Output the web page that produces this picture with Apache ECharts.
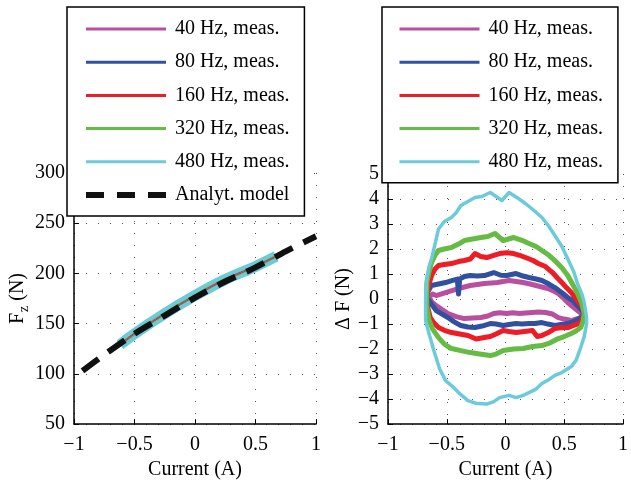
<!DOCTYPE html>
<html>
<head>
<meta charset="utf-8">
<script src="https://cdn.jsdelivr.net/npm/echarts@6/dist/echarts.min.js"></script>
<style>html,body{margin:0;padding:0;background:#fff}#c{width:631px;height:485px}</style>
</head>
<body>
<div id="c"></div>
<script>
// ---------- DATA ----------
const measNames = ['40 Hz, meas.', '80 Hz, meas.', '160 Hz, meas.', '320 Hz, meas.', '480 Hz, meas.'];
const modelName = 'Analyt. model';
const measColors = ['#b8509f', '#3050a0', '#ee1c25', '#66bb44', '#6ccbd9'];

const xTicks = [-1, -0.5, 0, 0.5, 1];
const fzTicks = [50, 100, 150, 200, 250, 300];
const dfTicks = [-5, -4, -3, -2, -1, 0, 1, 2, 3, 4, 5];

// Left plot: analytical model Fz(I)
const modelX = [-0.93, -0.75, -0.5, -0.25, 0, 0.25, 0.5, 0.75, 1.0];
const modelF = [103, 119, 140, 158, 176, 192, 206, 222, 237];
// Left plot: measured (all frequencies lie on this narrow band)
const measX = [-0.62, -0.5, -0.25, 0, 0.25, 0.5, 0.67];
const measF = [129, 140, 160, 178, 194, 207, 217];

// Right plot: Delta F hysteresis loops, [current, dF]
const loop40 = [[-0.65,0.1],[-0.62,0.2],[-0.59,0.14],[-0.55,0.2],[-0.51,0.26],[-0.45,0.35],[-0.40,0.42],[-0.35,0.48],[-0.30,0.54],[-0.24,0.58],[-0.18,0.62],[-0.12,0.64],[-0.07,0.66],[0.03,0.74],[0.09,0.7],[0.15,0.66],[0.21,0.6],[0.26,0.54],[0.31,0.48],[0.36,0.42],[0.41,0.32],[0.45,0.22],[0.49,0.05],[0.53,-0.14],[0.57,-0.3],[0.61,-0.45],[0.65,-0.6],[0.66,-0.7],[0.64,-0.74],[0.6,-0.8],[0.56,-0.86],[0.5,-0.8],[0.45,-0.74],[0.40,-0.6],[0.34,-0.54],[0.28,-0.52],[0.23,-0.54],[0.17,-0.56],[0.12,-0.58],[0.06,-0.55],[0.01,-0.58],[-0.05,-0.55],[-0.10,-0.58],[-0.15,-0.68],[-0.21,-0.74],[-0.28,-0.76],[-0.35,-0.78],[-0.42,-0.7],[-0.49,-0.58],[-0.54,-0.42],[-0.59,-0.26],[-0.63,-0.1],[-0.65,0.1]];
const loop80 = [[-0.67,0.06],[-0.66,0.3],[-0.63,0.54],[-0.57,0.6],[-0.51,0.66],[-0.45,0.75],[-0.41,0.8],[-0.40,0.2],[-0.39,0.8],[-0.35,0.9],[-0.30,0.94],[-0.24,0.92],[-0.18,0.94],[-0.10,1.06],[-0.04,0.95],[0.01,0.94],[0.09,1.02],[0.15,0.92],[0.20,0.86],[0.26,0.8],[0.31,0.74],[0.37,0.6],[0.42,0.46],[0.48,0.25],[0.53,0.06],[0.58,-0.1],[0.61,-0.26],[0.65,-0.45],[0.67,-0.6],[0.64,-0.74],[0.58,-0.9],[0.53,-0.98],[0.47,-1.02],[0.42,-1.06],[0.36,-1.0],[0.31,-0.94],[0.25,-0.98],[0.20,-0.98],[0.14,-1.0],[0.09,-0.98],[0.03,-1.02],[-0.02,-1.06],[-0.08,-1.0],[-0.13,-0.98],[-0.20,-1.08],[-0.26,-1.14],[-0.32,-1.12],[-0.38,-1.06],[-0.44,-0.9],[-0.49,-0.74],[-0.54,-0.6],[-0.59,-0.46],[-0.63,-0.2],[-0.67,0.06]];
const loop160 = [[-0.67,0.14],[-0.65,0.6],[-0.63,0.94],[-0.6,1.2],[-0.57,1.34],[-0.52,1.38],[-0.46,1.42],[-0.4,1.5],[-0.35,1.54],[-0.3,1.6],[-0.26,1.82],[-0.21,1.7],[-0.16,1.66],[-0.1,1.75],[-0.05,1.82],[0.01,1.85],[0.07,1.82],[0.12,1.75],[0.17,1.66],[0.23,1.55],[0.28,1.42],[0.34,1.3],[0.4,1.06],[0.44,0.85],[0.48,0.66],[0.52,0.45],[0.56,0.26],[0.61,-0.06],[0.65,-0.3],[0.67,-0.58],[0.64,-0.94],[0.58,-1.05],[0.53,-1.14],[0.47,-1.15],[0.42,-1.18],[0.36,-1.35],[0.31,-1.46],[0.27,-1.5],[0.23,-1.26],[0.16,-1.3],[0.09,-1.34],[0.03,-1.3],[-0.02,-1.26],[-0.08,-1.4],[-0.13,-1.5],[-0.18,-1.54],[-0.25,-1.6],[-0.32,-1.46],[-0.39,-1.4],[-0.46,-1.34],[-0.52,-1.25],[-0.57,-1.14],[-0.61,-0.95],[-0.64,-0.74],[-0.67,-0.18],[-0.67,0.14]];
const loop320 = [[-0.67,0.66],[-0.65,1.1],[-0.63,1.46],[-0.6,1.75],[-0.57,1.94],[-0.52,2.0],[-0.46,2.06],[-0.4,2.2],[-0.35,2.34],[-0.28,2.4],[-0.21,2.46],[-0.15,2.5],[-0.09,2.62],[-0.02,2.34],[0.07,2.46],[0.14,2.35],[0.2,2.22],[0.26,2.1],[0.31,1.94],[0.37,1.75],[0.42,1.54],[0.48,1.25],[0.53,0.94],[0.57,0.6],[0.61,0.26],[0.65,-0.18],[0.67,-0.58],[0.66,-0.9],[0.64,-1.14],[0.6,-1.28],[0.56,-1.38],[0.5,-1.5],[0.45,-1.58],[0.38,-1.75],[0.31,-1.86],[0.23,-1.9],[0.15,-1.98],[0.07,-2.0],[-0.02,-2.06],[-0.08,-2.2],[-0.13,-2.26],[-0.22,-2.2],[-0.3,-2.14],[-0.38,-2.06],[-0.46,-1.98],[-0.52,-1.8],[-0.57,-1.54],[-0.62,-1.2],[-0.65,-0.86],[-0.67,-0.3],[-0.67,0.66]];
const loop480 = [[-0.68,0.06],[-0.67,0.8],[-0.65,1.3],[-0.63,1.6],[-0.6,2.2],[-0.57,2.8],[-0.52,3.1],[-0.46,3.26],[-0.42,3.45],[-0.38,3.74],[-0.32,3.9],[-0.26,4.06],[-0.2,4.1],[-0.13,4.26],[-0.08,4.1],[-0.03,3.94],[0.03,4.26],[0.1,4.05],[0.17,3.82],[0.24,3.55],[0.31,3.26],[0.37,2.9],[0.42,2.54],[0.48,2.1],[0.53,1.6],[0.58,1.1],[0.61,0.66],[0.65,0.2],[0.67,-0.14],[0.69,-0.74],[0.69,-0.98],[0.67,-1.5],[0.64,-1.94],[0.6,-2.45],[0.56,-2.7],[0.48,-2.94],[0.42,-3.05],[0.36,-3.25],[0.31,-3.38],[0.26,-3.6],[0.2,-3.74],[0.15,-3.85],[0.09,-3.94],[0.03,-3.85],[-0.05,-3.94],[-0.1,-4.1],[-0.16,-4.2],[-0.24,-4.18],[-0.32,-4.06],[-0.36,-3.9],[-0.40,-3.74],[-0.45,-3.5],[-0.51,-3.26],[-0.56,-2.8],[-0.61,-2.06],[-0.65,-1.4],[-0.68,-0.86],[-0.68,0.06]];
const loops = [loop40, loop80, loop160, loop320, loop480];

// ---------- CHART ----------
const FONT = 'Liberation Serif';
const leftMeasWidths = [1, 1, 1.5, 3, 11];
const fmt = v => (v < 0 ? '\u2212' + String(-v) : String(v));

function xAxisCfg(gi) {
  return {
    type: 'value', gridIndex: gi, min: -1, max: 1, interval: 0.5,
    name: 'Current (A)', nameLocation: 'middle', nameGap: 32,
    nameTextStyle: {fontFamily: FONT, fontSize: 20, color: '#000'},
    axisLine: {onZero: false, lineStyle: {color: '#000', width: 1.5}},
    axisTick: {inside: true, length: 5, lineStyle: {color: '#000'}},
    axisLabel: {fontFamily: FONT, fontSize: 20, color: '#000', margin: 11, formatter: fmt},
    splitLine: {show: true, lineStyle: {color: '#555', width: 1, type: [1, 11]}}
  };
}
function yAxisCfg(gi, min, max, interval, name, gap, rich) {
  return {
    type: 'value', gridIndex: gi, min: min, max: max, interval: interval,
    name: name, nameLocation: 'middle', nameGap: gap, nameRotate: 90,
    nameTextStyle: {fontFamily: FONT, fontSize: 20, color: '#000', rich: rich},
    axisLine: {show: true, onZero: false, lineStyle: {color: '#000', width: 1.5}},
    axisTick: {show: true, inside: true, length: 5, lineStyle: {color: '#000'}},
    axisLabel: {fontFamily: FONT, fontSize: 20, color: '#000', margin: 9, formatter: fmt},
    splitLine: {show: true, lineStyle: {color: '#555', width: 1, type: [1, 11]}}
  };
}

const series = [];
// left measured bands (wide first, so thin ones lie on top)
for (let i = measNames.length - 1; i >= 0; i--) {
  series.push({
    name: measNames[i], type: 'line', xAxisIndex: 0, yAxisIndex: 0,
    data: measX.map((x, k) => [x, measF[k]]),
    showSymbol: false, symbol: 'none', smooth: 0.3,
    lineStyle: {color: measColors[i], width: leftMeasWidths[i], cap: 'butt'},
    itemStyle: {color: measColors[i]}, silent: true, z: 2
  });
}
series.push({
  name: modelName, type: 'line', xAxisIndex: 0, yAxisIndex: 0,
  data: modelX.map((x, k) => [x, modelF[k]]),
  showSymbol: false, symbol: 'none', smooth: 0.3,
  lineStyle: {color: '#111', width: 6, type: [20, 12]},
  itemStyle: {color: '#111'}, silent: true, z: 3
});
// right loops
for (let i = 0; i < measNames.length; i++) {
  series.push({
    name: measNames[i], type: 'line', xAxisIndex: 1, yAxisIndex: 1,
    data: loops[i],
    showSymbol: false, symbol: 'none',
    lineStyle: {color: measColors[i], width: i === 4 ? 3.5 : 5, join: 'round'},
    itemStyle: {color: measColors[i]}, silent: true, z: 2
  });
}

function legendCfg(left, withModel) {
  const data = measNames.map((n, i) => ({
    name: n,
    lineStyle: {color: measColors[i], width: 3, type: 'solid'},
    itemStyle: {opacity: 0, borderWidth: 0}
  }));
  if (withModel) data.push({
    name: modelName,
    lineStyle: {color: '#111', width: 6, type: [18, 13]},
    itemStyle: {opacity: 0, borderWidth: 0}
  });
  return {
    data: data, left: left, top: 7, orient: 'vertical',
    itemWidth: 80, itemHeight: 20, itemGap: 13.2,
    padding: [12, 15, 11, 16],
    backgroundColor: '#fff', borderColor: '#000', borderWidth: 1.5, borderRadius: 0,
    textStyle: {fontFamily: FONT, fontSize: 20, color: '#000', lineHeight: 20, padding: [0, 0, 0, 4]},
    selectedMode: false, z: 20
  };
}

const option = {
  animation: false,
  backgroundColor: '#fff',
  grid: [
    {left: 74, width: 242, top: 173, bottom: 60},
    {left: 388, width: 242, top: 174, bottom: 60}
  ],
  xAxis: [xAxisCfg(0), xAxisCfg(1)],
  yAxis: [
    yAxisCfg(0, 50, 300, 50, '{a|F}{b|z}{a| (N)}', 43,
      {a: {fontFamily: FONT, fontSize: 20, color: '#000'}, b: {fontFamily: FONT, fontSize: 14, color: '#000', padding: [12, 0, 0, 1]}}),
    yAxisCfg(1, -5, 5, 1, '\u0394 F (N)', 33, {})
  ],
  legend: [legendCfg(67, true), legendCfg(382, false)],
  series: series
};

const chart = echarts.init(document.getElementById('c'), null, {renderer: 'canvas'});
chart.setOption(option);
</script>
</body>
</html>
